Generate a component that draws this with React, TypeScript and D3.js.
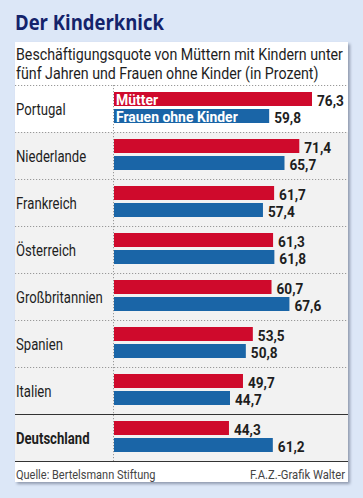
import React from 'react';
import * as d3 from 'd3';

const countries = ['Portugal', 'Niederlande', 'Frankreich', 'Österreich', 'Großbritannien', 'Spanien', 'Italien', 'Deutschland'];
const mothers = [76.3, 71.4, 61.7, 61.3, 60.7, 53.5, 49.7, 44.3];
const women = [59.8, 65.7, 57.4, 61.8, 67.6, 50.8, 44.7, 61.2];
const seriesNames = ['Mütter', 'Frauen ohne Kinder'];

const W = 363;
const H = 498;
const panel = { left: 15, top: 42, right: 348, bottom: 482 };
const RED = '#cf0a2c';
const BLUE = '#1a65a7';
const FONT = 'Roboto, "Liberation Sans", sans-serif';
const SQUEEZE = 0.82; // no condensed face installed, so squeeze Roboto horizontally

const de = d3.formatLocale({ decimal: ',', thousands: '.', grouping: [3], currency: ['', '€'] });
const fmt = de.format('.1f');

type TProps = {
    x: number; y: number; size: number; bold?: boolean; fill?: string;
    anchor?: 'start' | 'end'; sx?: number; family?: string; children: React.ReactNode;
};

const T = ({ x, y, size, bold, fill = '#1e1e1e', anchor = 'start', sx = SQUEEZE, family = FONT, children }: TProps) => (
    <g transform={`translate(${x},${y}) scale(${sx},1)`}>
        <text textAnchor={anchor} fontFamily={family} fontSize={size} fontWeight={bold ? 700 : 400} fill={fill}>
            {children}
        </text>
    </g>
);

export default function App() {
    // x, y scale
    const x = d3.scaleLinear().domain([0, 76.3]).range([114, 312]);
    const y = d3.scaleBand<string>().domain(countries).range([85, 461]);
    const bh = 14;

    return (
        <svg width={W} height={H} style={{ position: 'absolute', left: 0, top: 0 }}>
            <defs>
                <filter id="shadow" x="-5%" y="-5%" width="115%" height="115%">
                    <feGaussianBlur stdDeviation="1.5" />
                </filter>
            </defs>
            <rect width={W} height={H} fill="#dce7f7" />

            {/* title */}
            <T x={15} y={30} size={21} bold fill="#14236b" sx={0.88} family='"Open Sans", sans-serif'>
                Der Kinderknick
            </T>

            {/* panel */}
            <rect x={panel.left + 2} y={panel.top + 2} width={panel.right - panel.left} height={panel.bottom - panel.top}
                fill="#8f9aae" filter="url(#shadow)" />
            <rect x={panel.left} y={panel.top} width={panel.right - panel.left} height={panel.bottom - panel.top} fill="#fff" />

            <T x={16} y={60} size={16} sx={0.89}>Beschäftigungsquote von Müttern mit Kindern unter</T>
            <T x={16} y={79} size={16} sx={0.89}>fünf Jahren und Frauen ohne Kinder (in Prozent)</T>

            {/* rows */}
            {countries.map((c, i) => (
                <rect key={'bg' + c} x={panel.left} y={y(c)} width={panel.right - panel.left} height={y.bandwidth()}
                    fill={i === 0 ? '#fff' : '#f2f2f2'} />
            ))}
            {countries.map((c, i) => (
                <line key={'sep' + c} x1={panel.left} x2={panel.right} y1={y(c)! + 0.5} y2={y(c)! + 0.5}
                    stroke={i === countries.length - 1 ? '#333' : '#999'}
                    strokeWidth={i === countries.length - 1 ? 1.2 : 1}
                    strokeDasharray={i === countries.length - 1 ? undefined : '1.2 1.8'} />
            ))}
            <line x1={panel.left} x2={panel.right} y1={461.5} y2={461.5} stroke="#333" strokeWidth={1.2} />
            <line x1={113.5} x2={113.5} y1={85} y2={461} stroke="#999" strokeDasharray="1.2 1.8" />

            {countries.map((c, i) => {
                const top = y(c)!;
                return (
                    <g key={c}>
                        <T x={16} y={top + y.bandwidth() / 2 + 6} size={16} bold={c === 'Deutschland'}>{c}</T>
                        <rect x={x(0)} y={top + 7} width={x(mothers[i]) - x(0)} height={bh} fill={RED} />
                        <rect x={x(0)} y={top + 24} width={x(women[i]) - x(0)} height={bh} fill={BLUE} />
                        <T x={x(mothers[i]) + 5} y={top + 7 + bh} size={15.5} bold sx={0.88}>{fmt(mothers[i])}</T>
                        <T x={x(women[i]) + 5} y={top + 24 + bh} size={15.5} bold sx={0.88}>{fmt(women[i])}</T>
                        {i === 0 && (
                            <>
                                <T x={x(0) + 2} y={top + 7 + bh - 1.5} size={15.5} bold fill="#fff" sx={0.9}>{seriesNames[0]}</T>
                                <T x={x(0) + 2} y={top + 24 + bh - 1.5} size={15.5} bold fill="#fff" sx={0.9}>{seriesNames[1]}</T>
                            </>
                        )}
                    </g>
                );
            })}

            {/* footer */}
            <T x={16} y={479} size={12.5} fill="#444" sx={0.88}>Quelle: Bertelsmann Stiftung</T>
            <T x={345} y={479} size={12.5} fill="#444" sx={0.9} anchor="end">F.A.Z.-Grafik Walter</T>
        </svg>
    );
}
